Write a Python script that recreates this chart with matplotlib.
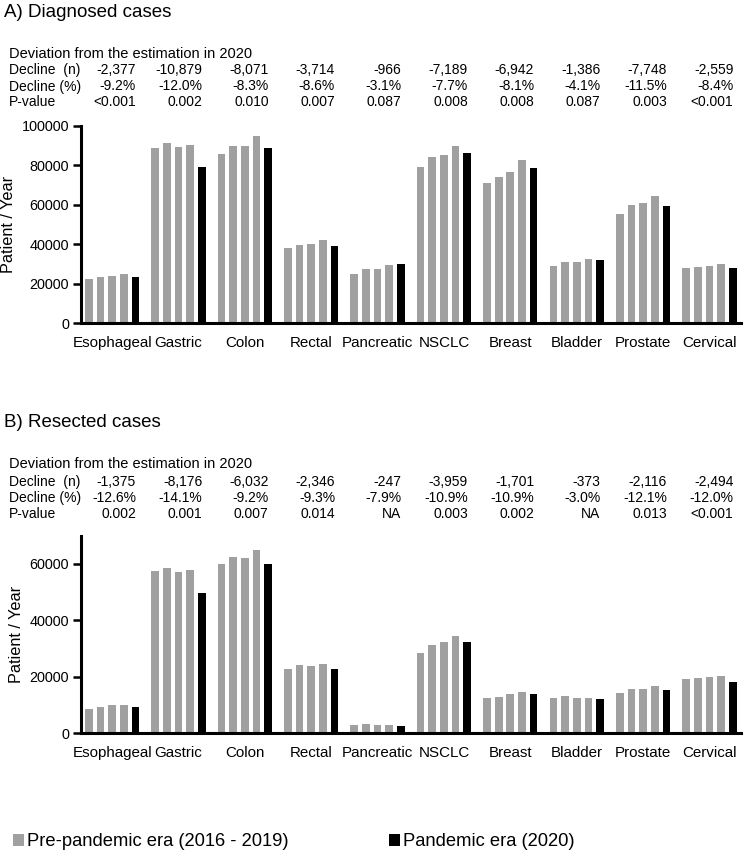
import matplotlib
matplotlib.use("Agg")
import matplotlib.pyplot as plt
import matplotlib.transforms as mtransforms
from matplotlib.patches import Patch
from matplotlib.ticker import StrMethodFormatter
import numpy as np

plt.rcParams['font.family'] = ['Liberation Sans', 'DejaVu Sans']

categories = ['Esophageal', 'Gastric', 'Colon', 'Rectal', 'Pancreatic',
              'NSCLC', 'Breast', 'Bladder', 'Prostate', 'Cervical']

# Diagnosed cases (patients / year)
diag_2016 = [22300, 88900, 85800, 38300, 25000, 78900, 71000, 28800, 55100, 28000]
diag_2017 = [23300, 91100, 89900, 39800, 27500, 84100, 74000, 30900, 59700, 28500]
diag_2018 = [24100, 89000, 89700, 40000, 27700, 85200, 76600, 30900, 60900, 29200]
diag_2019 = [24800, 90200, 94600, 42000, 29500, 89900, 82600, 32400, 64200, 29800]
diag_2020 = [23300, 79300, 88500, 39100, 30000, 86000, 78800, 32000, 59400, 28000]

# Resected cases (patients / year)
resec_2016 = [8700, 57500, 59800, 22900, 3000, 28600, 12500, 12600, 14400, 19100]
resec_2017 = [9400, 58600, 62300, 24100, 3400, 31400, 12900, 13200, 15800, 19600]
resec_2018 = [9900, 57300, 62000, 23800, 3000, 32200, 13800, 12600, 15800, 20100]
resec_2019 = [10200, 58000, 64900, 24700, 3000, 34600, 14700, 12500, 16600, 20200]
resec_2020 = [9400, 49800, 59900, 22800, 2600, 32400, 13800, 12100, 15200, 18200]

diag_decline_n = ['-2,377', '-10,879', '-8,071', '-3,714', '-966', '-7,189', '-6,942', '-1,386', '-7,748', '-2,559']
diag_decline_pct = ['-9.2%', '-12.0%', '-8.3%', '-8.6%', '-3.1%', '-7.7%', '-8.1%', '-4.1%', '-11.5%', '-8.4%']
diag_pvalue = ['<0.001', '0.002', '0.010', '0.007', '0.087', '0.008', '0.008', '0.087', '0.003', '<0.001']

resec_decline_n = ['-1,375', '-8,176', '-6,032', '-2,346', '-247', '-3,959', '-1,701', '-373', '-2,116', '-2,494']
resec_decline_pct = ['-12.6%', '-14.1%', '-9.2%', '-9.3%', '-7.9%', '-10.9%', '-10.9%', '-3.0%', '-12.1%', '-12.0%']
resec_pvalue = ['0.002', '0.001', '0.007', '0.014', 'NA', '0.003', '0.002', 'NA', '0.013', '<0.001']

row_labels = ['Decline  (n)', 'Decline (%)', 'P-value']
legend_labels = ['Pre-pandemic era (2016 - 2019)', 'Pandemic era (2020)']

GRAY = '#a0a0a0'
BLACK = '#000000'
W, H = 745, 857

fig = plt.figure(figsize=(W / 100, H / 100), dpi=100)


def fy(y):
    return 1 - y / H


def make_panel(top_px, bottom_px, series, ymax, yticks):
    ax = fig.add_axes([81 / W, fy(bottom_px), 660 / W, (bottom_px - top_px) / H])
    x = np.arange(len(categories))
    pitch = 0.1756
    width = 0.116
    colors = [GRAY, GRAY, GRAY, GRAY, BLACK]
    for j, vals in enumerate(series):
        ax.bar(x + (j - 2) * pitch, vals, width=width, color=colors[j], linewidth=0)
    ax.set_xlim(-0.468, 9.475)
    ax.set_ylim(0, ymax)
    ax.set_yticks(yticks)
    ax.yaxis.set_major_formatter(StrMethodFormatter('{x:.0f}'))
    ax.set_xticks(x)
    ax.set_xticklabels(categories, fontsize=10.9)
    ax.tick_params(axis='x', length=0, pad=9)
    ax.tick_params(axis='y', length=6, width=1.8, pad=2.5, labelsize=10.4)
    for s in ['top', 'right']:
        ax.spines[s].set_visible(False)
    for s in ['left', 'bottom']:
        ax.spines[s].set_linewidth(2.2)
    ax.set_ylabel('Patient / Year', fontsize=11.7, labelpad=4)
    return ax


def make_table(ax, title, title_base, header_base, row_bases, rows):
    fig.text(4 / W, fy(title_base), title, fontsize=13.5, va='baseline', ha='left')
    fig.text(9 / W, fy(header_base), 'Deviation from the estimation in 2020',
             fontsize=10.5, va='baseline', ha='left')
    trans = mtransforms.blended_transform_factory(ax.transData, fig.transFigure)
    for lab, base, vals in zip(row_labels, row_bases, rows):
        fig.text(9 / W, fy(base), lab, fontsize=10, va='baseline', ha='left')
        for i, v in enumerate(vals):
            ax.text(i + 0.36, fy(base), v, transform=trans, fontsize=10,
                    va='baseline', ha='right')


ax1 = make_panel(125.7, 323.3, [diag_2016, diag_2017, diag_2018, diag_2019, diag_2020],
                 100000, [0, 20000, 40000, 60000, 80000, 100000])
make_table(ax1, 'A) Diagnosed cases', 16.7, 58.3, [74.3, 90.5, 106.5],
           [diag_decline_n, diag_decline_pct, diag_pvalue])

ax2 = make_panel(535.7, 733.3, [resec_2016, resec_2017, resec_2018, resec_2019, resec_2020],
                 70000, [0, 20000, 40000, 60000])
make_table(ax2, 'B) Resected cases', 426.7, 468.3, [485.7, 502.0, 518.0],
           [resec_decline_n, resec_decline_pct, resec_pvalue])

handles = [Patch(facecolor=GRAY, edgecolor='none'), Patch(facecolor=BLACK, edgecolor='none')]
fig.legend(handles, legend_labels, loc='center left', bbox_to_anchor=(13 / W, fy(842)),
           ncol=2, frameon=False, fontsize=13.2, handlelength=0.6, handleheight=0.6,
           handletextpad=0.15, columnspacing=5.5, borderpad=0, borderaxespad=0)

fig.savefig('out.png', dpi=100, facecolor='white')
